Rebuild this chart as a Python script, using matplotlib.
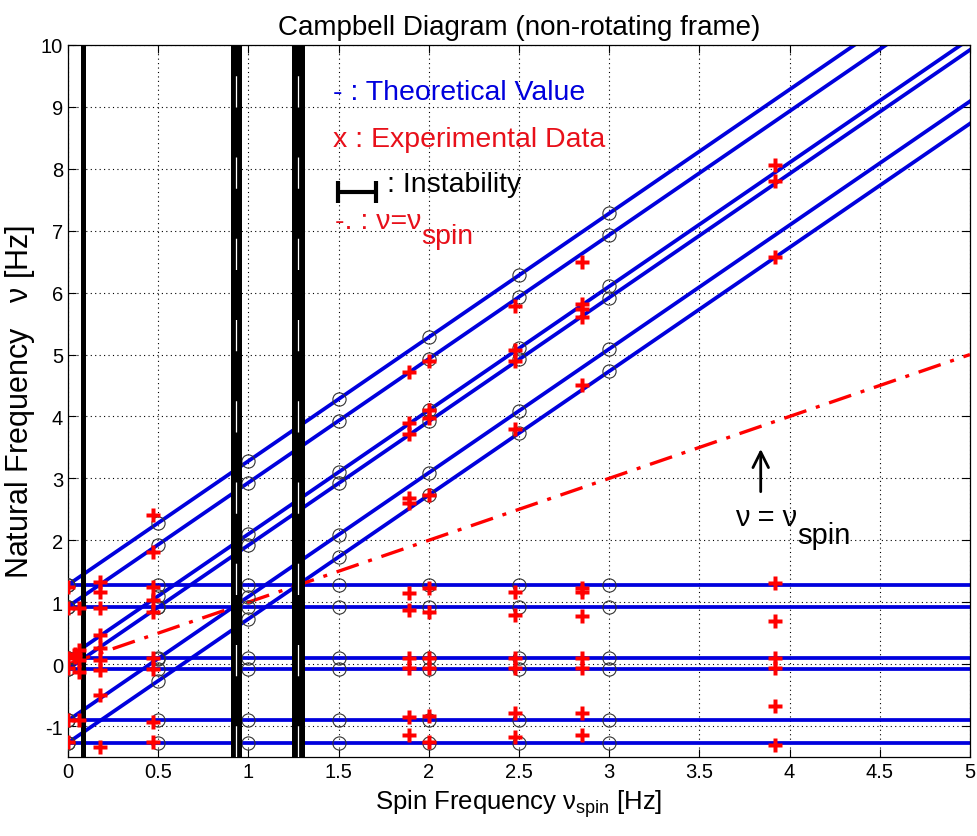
"""
Campbell diagram (non-rotating frame): theoretical whirl-mode frequencies
against spin frequency, with the measured peaks and instability bands.
"""

import matplotlib
matplotlib.use("Agg")
import matplotlib.pyplot as plt

FONT = ["Liberation Sans", "DejaVu Sans"]

plt.rcParams["font.family"] = FONT
plt.rcParams["mathtext.fontset"] = "custom"
plt.rcParams["mathtext.rm"] = "Liberation Sans"
plt.rcParams["mathtext.it"] = "Liberation Sans"

# rest-frame natural frequencies of the six modes [Hz] (flat lines)
MODE_FREQS = [1.28, 0.93, 0.10, -0.08, -0.91, -1.27]
MODE_SPIN = [0.0, 0.5, 1.0, 1.5, 2.0, 2.5, 3.0]

# theoretical branches rising with spin, values at BRANCH_SPIN
BRANCH_SPIN = [0.0, 0.5, 1.0, 1.5, 2.0, 2.5, 3.0, 5.0]
BRANCH_FREQS = [
    [1.28, 2.28, 3.28, 4.28, 5.28, 6.28, 7.28, 11.28],
    [0.93, 1.93, 2.93, 3.93, 4.93, 5.93, 6.93, 10.93],
    [0.10, 1.10, 2.10, 3.10, 4.10, 5.10, 6.10, 10.10],
    [-0.08, 0.92, 1.92, 2.92, 3.92, 4.92, 5.92, 9.92],
    [-0.91, 0.09, 1.09, 2.09, 3.09, 4.09, 5.09, 9.09],
    [-1.27, -0.27, 0.73, 1.73, 2.73, 3.73, 4.73, 8.73],
]

# measured peaks, one list per spin run
EXP_SPIN = [0.0, 0.04, 0.06, 0.18, 0.47, 1.89, 2.0, 2.48, 2.85, 3.92]
EXP_FREQS = [
    [1.25, 0.91, 0.10, -0.06, -0.90, -1.26],
    [0.17, 0.12],
    [0.91, 0.23, 0.06, -0.13, -0.90],
    [1.33, 1.17, 0.91, 0.47, 0.26, 0.06, -0.10, -0.50, -1.34],
    [2.41, 1.81, 1.25, 1.04, 0.84, 0.10, -0.08, -0.94, -1.26],
    [4.71, 3.90, 3.71, 2.69, 2.61, 1.15, 0.87, 0.10, -0.06, -0.86, -1.15],
    [4.90, 4.11, 3.97, 2.73, 1.23, 0.84, 0.10, -0.06, -0.83, -1.26],
    [5.79, 5.08, 4.89, 3.80, 1.17, 0.79, 0.10, -0.06, -0.79, -1.18],
    [6.50, 5.81, 5.73, 5.61, 4.50, 1.23, 1.17, 0.78, 0.10, -0.06, -0.79, -1.15],
    [8.06, 7.81, 6.57, 1.31, 0.70, 0.10, -0.06, -0.68, -1.31],
]

# spin ranges where the rotor went unstable [Hz]
INSTABILITY = [(0.072, 0.100), (0.905, 0.963), (1.243, 1.312)]

SYNC_SPIN = [0.0, 5.0]
XTICKS = [0, 0.5, 1, 1.5, 2, 2.5, 3, 3.5, 4, 4.5, 5]
YTICKS = list(range(-1, 11))

BLUE = "#0000dd"
RED = "#ff0000"
TXT_RED = "#e8101a"

fig = plt.figure(figsize=(9.78, 8.37), dpi=100)
ax = fig.add_axes([0.0695, 0.0944, 0.9223, 0.8507])

# theoretical curves
for f in MODE_FREQS:
    ax.axhline(f, color=BLUE, lw=2.7, zorder=2)
    ax.plot(MODE_SPIN, [f] * len(MODE_SPIN), "o", mfc="none", mec="#333333",
            ms=9.5, mew=0.8, zorder=4)
for row in BRANCH_FREQS:
    ax.plot(BRANCH_SPIN, row, color=BLUE, lw=2.7, zorder=2)
    ax.plot(BRANCH_SPIN[:-1], row[:-1], "o", mfc="none", mec="#333333",
            ms=9.5, mew=0.8, zorder=4)

# nu = nu_spin
ax.plot(SYNC_SPIN, SYNC_SPIN, color=RED, lw=2.4, linestyle=(0, (7, 3, 1.2, 3)),
        zorder=3)

# instability bands
for lo, hi in INSTABILITY:
    ax.axvspan(lo, hi, color="black", lw=0, zorder=5)
for lo, hi in INSTABILITY[1:]:
    ax.axvline((lo + hi) / 2, color="white", lw=0.9,
               linestyle=(0, (25, 40)), zorder=5.5)

# experimental data
for s, freqs in zip(EXP_SPIN, EXP_FREQS):
    ax.plot([s] * len(freqs), freqs, "P", color=RED, mec="none", ms=10,
            zorder=6)

ax.set_xlim(0, 5)
ax.set_ylim(-1.5, 10)
ax.set_xticks(XTICKS, labels=[f"{t:g}" for t in XTICKS], fontsize=14.5)
ax.set_yticks(YTICKS, labels=[str(t) for t in YTICKS], fontsize=14.5)
ax.tick_params(direction="in", top=True, right=True, length=6, width=0.8)
ax.grid(True, linestyle=(0, (1, 3)), color="black", lw=0.8)
ax.set_axisbelow(True)
for sp in ax.spines.values():
    sp.set_linewidth(0.9)

ax.set_title("Campbell Diagram (non-rotating frame)", fontsize=20, pad=8)
ax.set_xlabel(r"Spin Frequency $\nu_{\mathrm{spin}}$ [Hz]", fontsize=18.5,
              labelpad=5)
ax.set_ylabel(r"Natural Frequency   $\nu$ [Hz]", fontsize=22, labelpad=3)

# legend drawn as text inside the axes
ax.text(1.47, 9.24, "- : Theoretical Value", color=BLUE, fontsize=20.5,
        va="center", zorder=7)
ax.text(1.47, 8.48, "x : Experimental Data", color=TXT_RED, fontsize=20.5,
        va="center", zorder=7)
ax.errorbar([1.60], [7.62], xerr=[0.105], fmt="none", ecolor="black",
            elinewidth=3, capsize=8, capthick=3, zorder=7)
ax.text(1.77, 7.76, ": Instability", color="black", fontsize=20.5,
        va="center", zorder=7)
t4 = ax.text(1.48, 7.16, "-. : \u03bd=\u03bd", color=TXT_RED, fontsize=20.5,
             va="center", zorder=7)
ax.annotate("spin", xy=(1, 0.5), xycoords=t4, xytext=(0, -11),
            textcoords="offset points", color=TXT_RED, fontsize=20.5,
            va="center", zorder=7)

# arrow marking the synchronous line
ax.annotate("", xy=(3.84, 3.52), xytext=(3.84, 2.74),
            arrowprops=dict(arrowstyle="->", color="black", lw=2,
                            mutation_scale=28), zorder=7)
t5 = ax.text(3.70, 2.38, "\u03bd = \u03bd", color="black", fontsize=21,
             va="center", zorder=7)
ax.annotate("spin", xy=(1, 0.5), xycoords=t5, xytext=(0, -13),
            textcoords="offset points", color="black", fontsize=21,
            va="center", zorder=7)

fig.savefig("out.png", dpi=100)
